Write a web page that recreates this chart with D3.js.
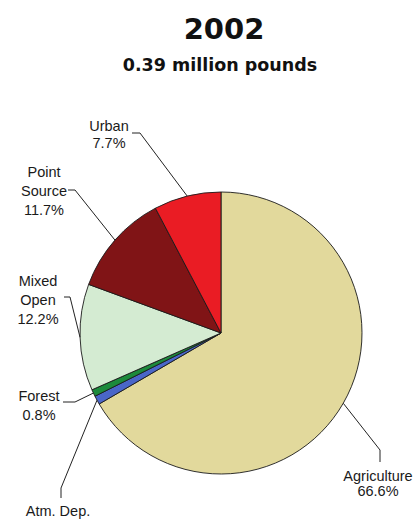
<!DOCTYPE html>
<html>
<head>
<meta charset="utf-8">
<script src="https://cdn.jsdelivr.net/npm/d3@7"></script>
<style>
  html, body { margin: 0; padding: 0; background: #fff; }
  svg { display: block; }
</style>
</head>
<body>
<svg id="chart" width="417" height="524"></svg>
<script>
// Sources of the load, clockwise from 12 o'clock
const categories = ["Agriculture", "Atm. Dep.", "Forest", "Mixed Open", "Point Source", "Urban"];
const shares = [66.6, 1.0, 0.8, 12.2, 11.7, 7.7];
const labelLines = [["Agriculture"], ["Atm. Dep."], ["Forest"], ["Mixed", "Open"], ["Point", "Source"], ["Urban"]];
const colors = ["#e2d99c", "#4a66c8", "#1c8a3c", "#d4ebd2", "#801416", "#ea1c24"];
const titleText = "2002";
const subtitleText = "0.39 million pounds";

const W = 417, H = 524;
const cx = 221, cy = 333, R = 141;

// Label placement: elbow of the leader, where it meets the text, text centre,
// first baseline, line height, and whether the percentage line fits on the page
const labelLayout = [
  { elbow: [380, 450], end: [380, 462], tx: 378, ty: 481, lh: 15, pct: true },
  { elbow: [61, 488],  end: [61, 498],  tx: 58,  ty: 516, lh: 18, pct: false },
  { elbow: [75, 402],  end: [63, 402],  tx: 39,  ty: 401, lh: 19, pct: true },
  { elbow: [70, 297],  end: [64, 297],  tx: 38,  ty: 286, lh: 19, pct: true },
  { elbow: [75, 190],  end: [68, 190],  tx: 44,  ty: 177, lh: 19, pct: true },
  { elbow: [140, 133], end: [132, 133], tx: 109, ty: 131, lh: 17, pct: true }
];

const svg = d3.select("#chart");

svg.append("text")
  .attr("x", 224).attr("y", 39)
  .attr("text-anchor", "middle")
  .style("font-family", "'DejaVu Sans', sans-serif")
  .style("font-weight", "bold")
  .style("font-size", "29px")
  .attr("fill", "#111")
  .text(titleText);

svg.append("text")
  .attr("x", 220).attr("y", 71)
  .attr("text-anchor", "middle")
  .style("font-family", "'DejaVu Sans', sans-serif")
  .style("font-weight", "bold")
  .style("font-size", "17.5px")
  .attr("fill", "#111")
  .text(subtitleText);

const pie = d3.pie().sort(null).value(d => d).startAngle(0).endAngle(2 * Math.PI);
const arcs = pie(shares);
const arc = d3.arc().innerRadius(0).outerRadius(R);
const rim = d3.arc().innerRadius(R).outerRadius(R);

const g = svg.append("g").attr("transform", `translate(${cx},${cy})`);

g.selectAll("path.slice")
  .data(arcs)
  .join("path")
  .attr("class", "slice")
  .attr("d", arc)
  .attr("fill", (d, i) => colors[i])
  .attr("stroke", "#1a1a1a")
  .attr("stroke-width", 0.9)
  .attr("stroke-linejoin", "round");

// Leader lines from the rim to each label
const leaders = svg.append("g")
  .attr("fill", "none")
  .attr("stroke", "#222")
  .attr("stroke-width", 1);

arcs.forEach((d, i) => {
  const c = rim.centroid(d);
  const L = labelLayout[i];
  leaders.append("polyline")
    .attr("points", [[cx + c[0], cy + c[1]], L.elbow, L.end].map(p => p.join(",")).join(" "));
});

// Labels: name lines followed by the percentage
const labels = svg.append("g")
  .style("font-family", "'Liberation Sans', Arial, sans-serif")
  .style("font-size", "14.5px")
  .attr("fill", "#1a1a1a")
  .attr("text-anchor", "middle");

arcs.forEach((d, i) => {
  const L = labelLayout[i];
  const lines = L.pct ? labelLines[i].concat([d3.format(".1f")(shares[i]) + "%"]) : labelLines[i];
  const t = labels.append("text").attr("x", L.tx).attr("y", L.ty);
  lines.forEach((s, k) => {
    t.append("tspan").attr("x", L.tx).attr("y", L.ty + k * L.lh).text(s);
  });
});
</script>
</body>
</html>
